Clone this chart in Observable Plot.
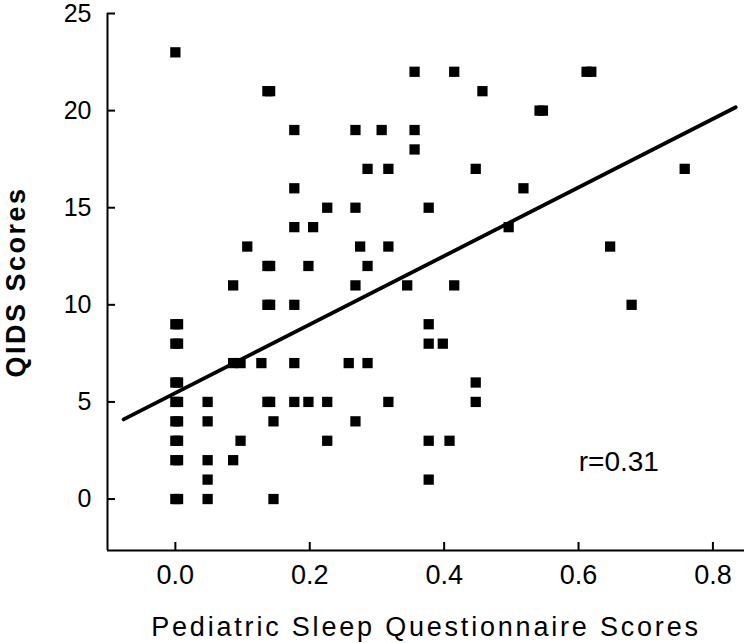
<!DOCTYPE html>
<html>
<head>
<meta charset="utf-8">
<script src="https://cdn.jsdelivr.net/npm/d3@7"></script>
<script src="https://cdn.jsdelivr.net/npm/@observablehq/plot@0.6"></script>
<style>
  html, body { margin: 0; padding: 0; background: #fff; }
  #chart svg { display: block; }
</style>
</head>
<body>
<div id="chart"></div>
<script>
// Pediatric Sleep Questionnaire scores (x) and QIDS scores (y)
const psqX = [
  0, 0, 0, 0, 0, 0, 0, 0, 0,
  0.004, 0.004, 0.004, 0.004, 0.004, 0.004, 0.004, 0.004,
  0.048, 0.048, 0.048, 0.048, 0.048,
  0.086, 0.086, 0.086,
  0.097, 0.097,
  0.107, 0.128,
  0.137, 0.137, 0.137, 0.137,
  0.141, 0.141, 0.141, 0.141,
  0.146, 0.146,
  0.177, 0.177, 0.177, 0.177, 0.177, 0.177,
  0.198, 0.198, 0.205,
  0.226, 0.226, 0.226,
  0.258,
  0.268, 0.268, 0.268, 0.268,
  0.275,
  0.286, 0.286, 0.286,
  0.307,
  0.317, 0.317, 0.317,
  0.345,
  0.356, 0.356, 0.356,
  0.377, 0.377, 0.377, 0.377, 0.377,
  0.398, 0.408,
  0.415, 0.415,
  0.447, 0.447, 0.447,
  0.457, 0.496, 0.518,
  0.542, 0.547,
  0.612, 0.619,
  0.647, 0.679, 0.758
];
const qidsY = [
  23, 9, 8, 6, 5, 4, 3, 2, 0,
  9, 8, 6, 5, 4, 3, 2, 0,
  5, 4, 2, 1, 0,
  11, 7, 2,
  7, 3,
  13, 7,
  21, 12, 10, 5,
  21, 12, 10, 5,
  4, 0,
  19, 16, 14, 10, 7, 5,
  12, 5, 14,
  15, 5, 3,
  7,
  19, 15, 11, 4,
  13,
  17, 12, 7,
  19,
  17, 13, 5,
  11,
  22, 19, 18,
  15, 9, 8, 3, 1,
  8, 3,
  22, 11,
  17, 6, 5,
  21, 14, 16,
  20, 20,
  22, 22,
  13, 10, 17
];
// Regression line end points
const fitX = [-0.077, 0.834];
const fitY = [4.1, 20.17];

// Tick values
const xTicks = [0, 0.2, 0.4, 0.6, 0.8];
const yTicks = [0, 5, 10, 15, 20, 25];

const points = psqX.map((x, i) => ({x, y: qidsY[i]}));
const fit = fitX.map((x, i) => ({x, y: fitY[i]}));

const xDomain = [-0.101, 0.847];
const yDomain = [-2.65, 25];
const pxPerX = 637 / (xDomain[1] - xDomain[0]);
const pxPerY = 537 / (yDomain[1] - yDomain[0]);

const chart = Plot.plot({
  width: 744,
  height: 643,
  marginLeft: 107,
  marginRight: 0,
  marginTop: 13,
  marginBottom: 93,
  x: {domain: xDomain},
  y: {domain: yDomain},
  style: {fontFamily: "'Liberation Sans', Arial, sans-serif", background: "#fff", color: "#000"},
  marks: [
    Plot.ruleX([xDomain[0]], {stroke: "#000", strokeWidth: 2}),
    Plot.ruleY([yDomain[0]], {stroke: "#000", strokeWidth: 2}),
    // inward ticks
    Plot.ruleY(yTicks, {y: d => d, x1: xDomain[0], x2: xDomain[0] + 8 / pxPerX, stroke: "#000", strokeWidth: 2}),
    Plot.ruleX(xTicks, {x: d => d, y1: yDomain[0], y2: yDomain[0] + 8 / pxPerY, stroke: "#000", strokeWidth: 2}),
    Plot.axisY(yTicks, {tickSize: 0, tickPadding: 16, fontSize: 25, label: null, fill: "#000"}),
    Plot.axisX(xTicks, {tickSize: 0, tickPadding: 14, fontSize: 27, label: null, tickFormat: d3.format(".1f"), fill: "#000"}),
    Plot.line(fit, {x: "x", y: "y", stroke: "#000", strokeWidth: 3.8}),
    Plot.dot(points, {x: "x", y: "y", symbol: "square", r: 5.8, fill: "#000", stroke: "none"}),
    Plot.text(["r=0.31"], {x: 0.66, y: 1.9, text: d => d, fontSize: 28, fill: "#000"}),
    Plot.text(["QIDS Scores"], {frameAnchor: "left", textAnchor: "middle", lineAnchor: "middle", text: d => d, rotate: -90, dx: -91, fontSize: 27, fontWeight: "bold", fill: "#000"}),
    Plot.text(["Pediatric Sleep Questionnaire Scores"], {frameAnchor: "bottom", text: d => d, dy: 85, fontSize: 27, fill: "#000"})
  ]
});

d3.select(chart).selectAll("text").each(function() {
  const t = this.textContent;
  if (t === "QIDS Scores") this.style.letterSpacing = "2.5px";
  if (t === "Pediatric Sleep Questionnaire Scores") this.style.letterSpacing = "2.8px";
});

document.getElementById("chart").appendChild(chart);
</script>
</body>
</html>
